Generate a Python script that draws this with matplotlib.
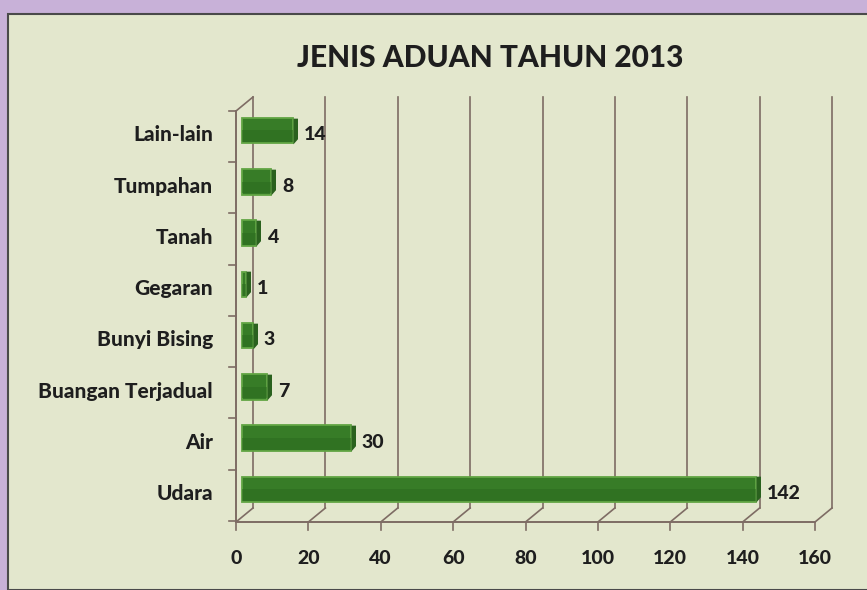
import numpy as np
import matplotlib
matplotlib.use("Agg")
import matplotlib.pyplot as plt
from matplotlib import transforms
from matplotlib.patches import Rectangle
from matplotlib.path import Path

categories = ["Lain-lain", "Tumpahan", "Tanah", "Gegaran", "Bunyi Bising",
              "Buangan Terjadual", "Air", "Udara"]
values = [14, 8, 4, 1, 3, 7, 30, 142]
xticks = [0, 20, 40, 60, 80, 100, 120, 140, 160]
title = "JENIS ADUAN TAHUN 2013"

plt.rcParams['font.family'] = ['Lato', 'DejaVu Sans']

W, H = 867, 590
fig = plt.figure(figsize=(W / 100, H / 100), dpi=100)
fig.patch.set_facecolor("#c8b1d8")

# light panel with dark border on top/left
panel = Rectangle((8 / W, 0), 1, (H - 14) / H, transform=fig.transFigure,
                  facecolor="#e3e7cd", edgecolor="#4a4a4a", linewidth=1.5,
                  zorder=-10)
fig.add_artist(panel)

x0, x1 = 236, 815
ybot, ytop = 522, 111
ax = fig.add_axes([x0 / W, 1 - ybot / H, (x1 - x0) / W, (ybot - ytop) / H])
ax.set_xlim(0, 160)
ypos = np.arange(len(categories))[::-1]
ax.set_ylim(-0.52, 7.5)
ax.axis("off")


def shifted(dx, dy):
    return ax.transData + transforms.ScaledTranslation(dx / 100, dy / 100, fig.dpi_scale_trans)


DX, DY = 17, 14
back = shifted(DX, DY)
grid_c = "#7e6c64"
lo, hi = ax.get_ylim()

# back wall gridlines
for x in xticks:
    ax.plot([x, x], [lo, hi], color=grid_c, lw=1.2, transform=back, clip_on=False)

# floor diagonals and x ticks
for x in xticks:
    p0 = ax.transData.transform((x, lo))
    p1 = p0 + np.array([DX, DY])
    ax.plot([p0[0], p1[0]], [p0[1], p1[1]], color=grid_c, lw=1.2,
            transform=None, clip_on=False)
    ax.plot([p0[0], p0[0]], [p0[1], p0[1] - 8], color=grid_c, lw=1.2,
            transform=None, clip_on=False)
# top diagonal of left wall
p0 = ax.transData.transform((0, hi))
ax.plot([p0[0], p0[0] + DX], [p0[1], p0[1] + DY], color=grid_c, lw=1.2,
        transform=None, clip_on=False)

# front axes lines
ax.plot([0, 160], [lo, lo], color=grid_c, lw=1.4, clip_on=False)
ax.plot([0, 0], [lo, hi], color=grid_c, lw=1.4, clip_on=False)
for b in list(np.arange(-0.5, 7.6, 1.0)):
    p = ax.transData.transform((0, b))
    ax.plot([p[0] - 7, p[0]], [p[1], p[1]], color=grid_c, lw=1.2,
            transform=None, clip_on=False)

# bars with a faux 3D cap
face = shifted(6, 6)
bh = 0.5
cap = Path([(0, -1), (0.35, -0.6), (0.35, 1.0), (0, 1.0), (0, -1)],
           [Path.MOVETO, Path.LINETO, Path.LINETO, Path.LINETO, Path.CLOSEPOLY])
txt = dict(fontsize=14, fontweight="black", color="#1e1e1e")
for y, v, name in zip(ypos, values, categories):
    ax.barh(y, v, height=bh, left=0, color="#377c27", edgecolor="#62a544",
            linewidth=1.3, transform=face, clip_on=False, zorder=4)
    ax.barh(y - bh * 0.22, v, height=bh * 0.45, left=0, color="#2b6a1f",
            linewidth=0, transform=face, clip_on=False, alpha=0.5, zorder=5)
    ax.plot([v], [y], marker=cap, markersize=18.5, color="#2a611e",
            markeredgewidth=0, transform=face, clip_on=False, zorder=6)
    ax.annotate(str(v), (v, y), xytext=(8, -3), textcoords="offset points",
                xycoords=face, ha="left", va="center", annotation_clip=False,
                **txt)
    ax.annotate(name, (0, y), xytext=(-21, -3),
                textcoords="offset points", xycoords=face, ha="right",
                va="center", annotation_clip=False,
                fontsize=15, fontweight="black", color="#1e1e1e")

for x in xticks:
    ax.annotate(str(x), (x, lo), xytext=(0, -26), textcoords="offset points",
                ha="center", va="center", annotation_clip=False, **txt)

fig.text(490 / W, 1 - 58 / H, title, ha="center", va="center", fontsize=21.5,
         fontweight="black", color="#1e1e1e")

fig.savefig("out.png", dpi=100, facecolor=fig.get_facecolor())
